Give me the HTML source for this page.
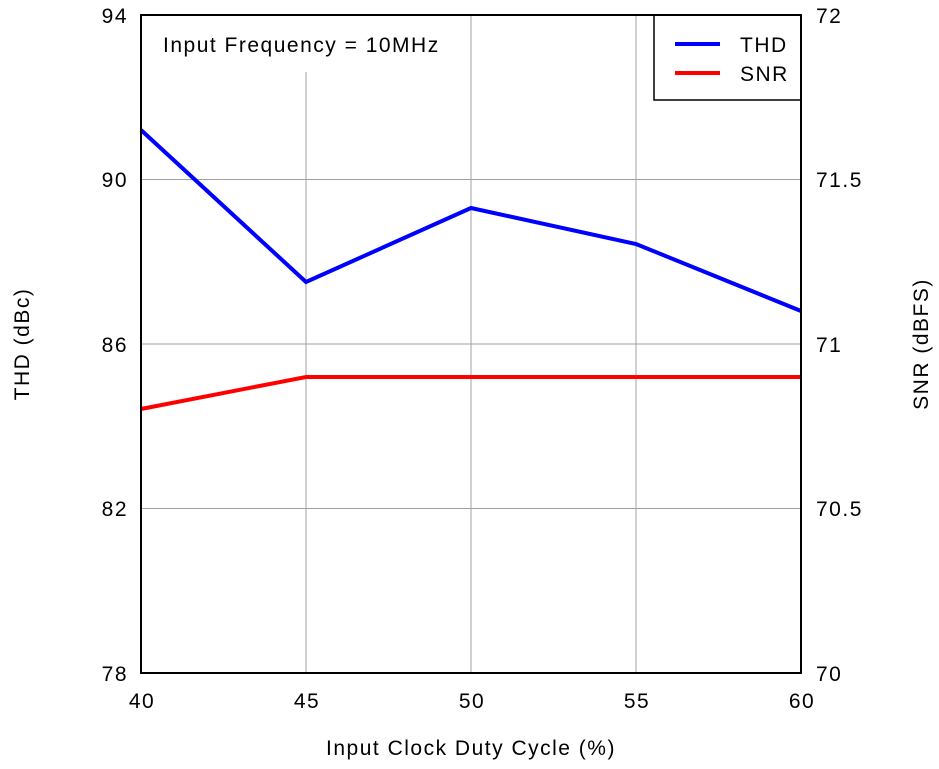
<!DOCTYPE html>
<html><head><meta charset="utf-8"><style>
body{margin:0;background:#fff}
svg text{font-family:"Liberation Sans",sans-serif;font-size:21px;letter-spacing:1.5px;fill:#000}
</style></head><body>
<svg width="939" height="764" xmlns="http://www.w3.org/2000/svg">
<rect width="939" height="764" fill="#fff"/>
<g stroke="#a0a0a0" stroke-width="1">
<line x1="306" y1="72" x2="306" y2="673"/>
<line x1="471" y1="15" x2="471" y2="673"/>
<line x1="636" y1="15" x2="636" y2="673"/>
<line x1="141" y1="179.5" x2="801" y2="179.5"/>
<line x1="141" y1="344" x2="801" y2="344"/>
<line x1="141" y1="508.5" x2="801" y2="508.5"/>
</g>
<text x="163" y="52">Input Frequency = 10MHz</text>
<polyline points="141,130 306,282 471,208 636,244 801,311" fill="none" stroke="#0000ff" stroke-width="4"/>
<polyline points="141,409 306,377 471,377 636,377 801,377" fill="none" stroke="#ff0000" stroke-width="4"/>
<rect x="654" y="15" width="147" height="85" fill="#fff" stroke="#000" stroke-width="1.5"/>
<line x1="675" y1="44" x2="720" y2="44" stroke="#0000ff" stroke-width="4"/>
<line x1="675" y1="73" x2="720" y2="73" stroke="#ff0000" stroke-width="4"/>
<text x="740" y="52">THD</text>
<text x="740" y="81">SNR</text>
<rect x="141" y="15" width="660" height="658" fill="none" stroke="#000" stroke-width="2"/>
<g text-anchor="end">
<text x="128" y="23">94</text><text x="128" y="187">90</text><text x="128" y="352">86</text><text x="128" y="516">82</text><text x="128" y="681">78</text>
</g>
<g text-anchor="start">
<text x="816" y="23">72</text><text x="816" y="187">71.5</text><text x="816" y="352">71</text><text x="816" y="516">70.5</text><text x="816" y="681">70</text>
</g>
<g text-anchor="middle">
<text x="142" y="708">40</text><text x="307" y="708">45</text><text x="472" y="708">50</text><text x="637" y="708">55</text><text x="802" y="708">60</text>
<text x="471" y="755">Input Clock Duty Cycle (%)</text>
<text transform="translate(29,344) rotate(-90)">THD (dBc)</text>
<text transform="translate(928,344) rotate(-90)">SNR (dBFS)</text>
</g>
</svg>
</body></html>
